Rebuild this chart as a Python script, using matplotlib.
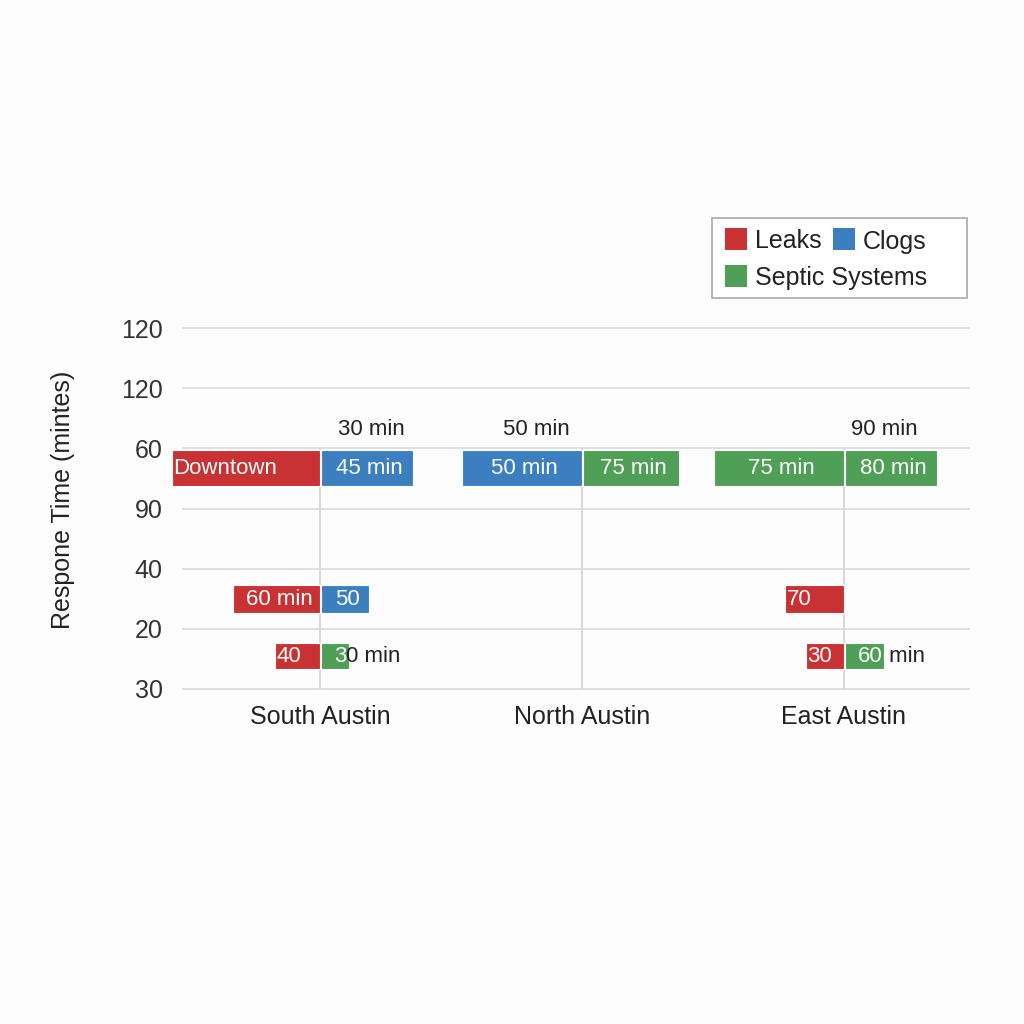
import matplotlib.pyplot as plt
from matplotlib.patches import Rectangle

plt.rcParams['font.family'] = ['Liberation Sans', 'DejaVu Sans']

regions = ["South Austin", "North Austin", "East Austin"]
row_labels = ["30", "20", "40", "90", "60", "120", "120"]  # bottom to top
colors = {"Leaks": "#c93233", "Clogs": "#3b7fc0", "Septic Systems": "#4f9f56"}

# bars: region index, row (y), side (-1 left / +1 right of region centre), length, type, label
bar_region = [0, 0, 1, 1, 2, 2, 0, 0, 2, 0, 0, 2, 2]
bar_y = [3.68] * 6 + [1.5] * 3 + [0.55] * 4
bar_height = [0.6] * 6 + [0.47] * 3 + [0.43] * 4
bar_side = [-1, 1, -1, 1, -1, 1, -1, 1, -1, -1, 1, -1, 1]
bar_len = [56.5, 35.1, 45.8, 36.6, 49.6, 35.1, 33.2, 18.3, 22.5, 17.2, 10.7, 14.5, 14.9]
bar_type = ["Leaks", "Clogs", "Clogs", "Septic Systems", "Septic Systems", "Septic Systems",
            "Leaks", "Clogs", "Leaks", "Leaks", "Septic Systems", "Leaks", "Septic Systems"]
bar_text = ["Downtown", "45 min", "50 min", "75 min", "75 min", "80 min",
            "60 min", "50", "70", "40", "3", "30", "60"]
# text that spills out of the bar (drawn dark)
bar_spill = ["", "", "", "", "", "", "", "", "", "", "0 min", "", " min"]
# 'c' centred, 'l' left in bar, 'o' starts in bar and runs past it
bar_align = ["l", "c", "c", "c", "c", "c", "c", "c", "l", "l", "o", "l", "o"]

top_notes = ["30 min", "50 min", "90 min"]
top_note_x = [19.5, 82.4, 215.3]

fs = 16

fig = plt.figure(figsize=(10.24, 10.24), dpi=100)
fig.patch.set_facecolor("#fdfdfd")
ax = fig.add_axes([182 / 1024, 1 - 701 / 1024, 788 / 1024, 397 / 1024])
ax.set_facecolor("#fdfdfd")
ax.set_xlim(-52.7, 248.1)
ax.set_ylim(-0.2, 6.4)

centers = [i * 100 for i in range(len(regions))]
ax.vlines(centers, 0, 4, color="#d6d6d6", lw=1.3, zorder=1)

for i in range(len(bar_len)):
    c = centers[bar_region[i]]
    left = c - bar_len[i] if bar_side[i] < 0 else c + 0.3
    rect = Rectangle((left, bar_y[i] - bar_height[i] / 2), bar_len[i], bar_height[i],
                     facecolor=colors[bar_type[i]], edgecolor="white", lw=0.8,
                     zorder=3, clip_on=False)
    ax.add_patch(rect)
    ty = bar_y[i] + 0.03
    if bar_align[i] == "c":
        ax.text(left + bar_len[i] / 2 + 1, ty, bar_text[i], ha="center",
                va="center_baseline", color="white", fontsize=fs, zorder=4)
    elif bar_align[i] == "l":
        ax.text(left + 0.6, ty, bar_text[i], ha="left", va="center_baseline",
                color="white", fontsize=fs, zorder=4)
    else:
        t = ax.text(left + 5, ty, bar_text[i], ha="left", va="center_baseline",
                    color="white", fontsize=fs, zorder=4)
        ax.annotate(bar_spill[i], xy=(1, 0), xycoords=t, ha="left", va="bottom",
                    color="#222222", fontsize=fs, zorder=4)

for x, s in zip(top_note_x, top_notes):
    ax.text(x, 4.36, s, ha="center", va="center_baseline", fontsize=fs, color="#222222")

ax.set_yticks(range(len(row_labels)))
ax.set_yticklabels(row_labels, fontsize=18, color="#333333")
ax.set_xticks(centers)
ax.set_xticklabels(regions, fontsize=18, color="#222222")
ax.tick_params(axis="y", length=0, pad=14)
ax.tick_params(axis="x", length=0, pad=3)
ax.yaxis.grid(True, color="#dcdcdc", lw=1.3)
ax.set_axisbelow(True)
for sp in ax.spines.values():
    sp.set_visible(False)

fig.text(63 / 1024, 1 - 500 / 1024, "Respone Time (mintes)", rotation=90,
         ha="center", va="center", fontsize=18, color="#222222")

# legend box
fig.patches.append(Rectangle((712 / 1024, 1 - 298 / 1024), 255 / 1024, 80 / 1024,
                             transform=fig.transFigure, facecolor="white",
                             edgecolor="#b0b0b0", lw=1.3))
legend_items = [("Leaks", 725, 239), ("Clogs", 833, 239), ("Septic Systems", 725, 276)]
for name, lx, ly in legend_items:
    fig.patches.append(Rectangle((lx / 1024, 1 - (ly + 11) / 1024), 22 / 1024, 22 / 1024,
                                 transform=fig.transFigure, facecolor=colors[name], lw=0))
    fig.text((lx + 30) / 1024, 1 - ly / 1024, name, ha="left", va="center_baseline",
             fontsize=18, color="#222222")

fig.savefig("out.png", dpi=100, facecolor=fig.get_facecolor())
